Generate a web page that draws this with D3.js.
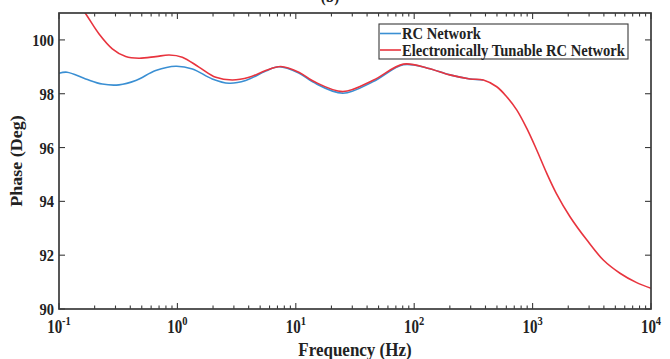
<!DOCTYPE html>
<html>
<head>
<meta charset="utf-8">
<script src="https://cdn.jsdelivr.net/npm/d3@7"></script>
<style>
  body { margin: 0; background: #fff; }
  text { font-family: "Liberation Serif", "Times New Roman", serif; font-weight: bold; fill: #222; }
</style>
</head>
<body>
<div id="chart"></div>
<script>
// frequencies (Hz) and phase (deg)
const rcFreq = [0.1, 0.117, 0.168, 0.232, 0.321, 0.445, 0.656, 0.968, 1.34, 1.97, 2.73, 3.77, 5.57, 7.2, 10.6, 14, 25, 45, 81, 130, 200, 296, 384];
const rcPhase = [98.76, 98.8, 98.55, 98.36, 98.33, 98.49, 98.86, 99.02, 98.92, 98.55, 98.39, 98.49, 98.84, 99.0, 98.77, 98.43, 98.02, 98.45, 99.08, 98.95, 98.7, 98.55, 98.51];

const etFreq = [0.1, 0.168, 0.218, 0.282, 0.366, 0.474, 0.656, 0.851, 1.1, 1.52, 2.11, 2.91, 4.03, 5.57, 7.46, 10.6, 14, 25, 45, 81, 130, 200, 296, 384, 498, 604, 734, 891, 1083, 1318, 1585, 2070, 2864, 3955, 5470, 7570, 10000];
const etPhase = [102.4, 100.97, 100.22, 99.67, 99.38, 99.32, 99.38, 99.44, 99.36, 98.99, 98.61, 98.51, 98.61, 98.86, 99.01, 98.8, 98.47, 98.08, 98.5, 99.1, 98.95, 98.7, 98.55, 98.51, 98.26, 97.89, 97.4, 96.72, 95.91, 95.04, 94.3, 93.43, 92.57, 91.82, 91.33, 90.98, 90.77];

const yTicks = [90, 92, 94, 96, 98, 100];
const xDecades = [-1, 0, 1, 2, 3, 4];
const seriesNames = ['RC Network', 'Electronically Tunable RC Network'];
const seriesColors = ['#3a8fd3', '#e8343e'];

const width = 670, height = 359;
const margin = {top: 13, right: 19, bottom: 50, left: 59};
const innerW = width - margin.left - margin.right;
const innerH = height - margin.top - margin.bottom;

const svg = d3.select('#chart').append('svg')
  .attr('width', width)
  .attr('height', height);

// the figure is a little taller than wide, so text is stretched vertically
function label(parent, px, py, str, size, anchor, sy) {
  return parent.append('g')
    .attr('transform', 'translate(' + px + ',' + py + ') scale(1,' + sy + ')')
    .append('text')
    .attr('text-anchor', anchor)
    .style('font-size', size + 'px')
    .text(str);
}

// caption of the panel, mostly cut off at the top edge
label(svg, 330, 2, '(b)', 15, 'middle', 1.15);

const g = svg.append('g')
  .attr('transform', 'translate(' + margin.left + ',' + margin.top + ')');

const x = d3.scaleLog().domain([0.1, 10000]).range([0, innerW]);
const y = d3.scaleLinear().domain([90, 101]).range([innerH, 0]);

g.append('clipPath').attr('id', 'plotclip')
  .append('rect').attr('width', innerW).attr('height', innerH);

const line = d3.line()
  .x(d => x(d[0]))
  .y(d => y(d[1]))
  .curve(d3.curveCatmullRom.alpha(0.5));

const rcData = rcFreq.map((f, i) => [f, rcPhase[i]]);
const etData = etFreq.map((f, i) => [f, etPhase[i]]);

const plot = g.append('g').attr('clip-path', 'url(#plotclip)');
plot.append('path').datum(rcData)
  .attr('fill', 'none')
  .attr('stroke', seriesColors[0])
  .attr('stroke-width', 1.6)
  .attr('d', line);
plot.append('path').datum(etData)
  .attr('fill', 'none')
  .attr('stroke', seriesColors[1])
  .attr('stroke-width', 1.6)
  .attr('d', line);

// x ticks: majors at decades, minors at 2..9
const minorX = [];
xDecades.slice(0, -1).forEach(d => {
  for (let k = 2; k <= 9; k++) minorX.push(k * Math.pow(10, d));
});
const majorX = xDecades.map(d => Math.pow(10, d));

const axisColor = '#3a3a3a';
const ticks = g.append('g').attr('stroke', axisColor).attr('stroke-width', 1.1);

minorX.forEach(f => {
  ticks.append('line').attr('x1', x(f)).attr('x2', x(f)).attr('y1', innerH).attr('y2', innerH - 3.5);
  ticks.append('line').attr('x1', x(f)).attr('x2', x(f)).attr('y1', 0).attr('y2', 3.5);
});
majorX.forEach(f => {
  ticks.append('line').attr('x1', x(f)).attr('x2', x(f)).attr('y1', innerH).attr('y2', innerH - 6);
  ticks.append('line').attr('x1', x(f)).attr('x2', x(f)).attr('y1', 0).attr('y2', 6);
});
yTicks.forEach(v => {
  ticks.append('line').attr('x1', 0).attr('x2', 6).attr('y1', y(v)).attr('y2', y(v));
  ticks.append('line').attr('x1', innerW).attr('x2', innerW - 6).attr('y1', y(v)).attr('y2', y(v));
});

// frame
g.append('rect')
  .attr('width', innerW)
  .attr('height', innerH)
  .attr('fill', 'none')
  .attr('stroke', axisColor)
  .attr('stroke-width', 1.7);

// y tick labels
yTicks.forEach(v => {
  label(g, -5, y(v), v, 14.5, 'end', 1.2).attr('dy', '0.35em');
});

// x tick labels 10^n
xDecades.forEach(d => {
  const t = label(g, x(Math.pow(10, d)), innerH + 24, '10', 15, 'middle', 1.2);
  t.append('tspan')
    .attr('dy', -7)
    .style('font-size', '10.5px')
    .text(d);
});

// axis titles
label(g, innerW / 2, innerH + 47, 'Frequency (Hz)', 17, 'middle', 1.15);

g.append('g')
  .attr('transform', 'translate(' + (-37) + ',' + (innerH / 2) + ') rotate(-90) scale(1.06,1)')
  .append('text')
  .attr('text-anchor', 'middle')
  .style('font-size', '17px')
  .text('Phase (Deg)');

// legend
const legend = svg.append('g').attr('transform', 'translate(379,24)');
legend.append('rect')
  .attr('width', 249)
  .attr('height', 35)
  .attr('fill', '#fff')
  .attr('stroke', axisColor)
  .attr('stroke-width', 1.1);
seriesNames.forEach((name, i) => {
  const ly = 9.5 + i * 16.5;
  legend.append('line')
    .attr('x1', 1).attr('x2', 22)
    .attr('y1', ly).attr('y2', ly)
    .attr('stroke', seriesColors[i])
    .attr('stroke-width', 1.6);
  label(legend, 23, ly, name, 14.6, 'start', 1.1).attr('dy', '0.35em');
});
</script>
</body>
</html>
